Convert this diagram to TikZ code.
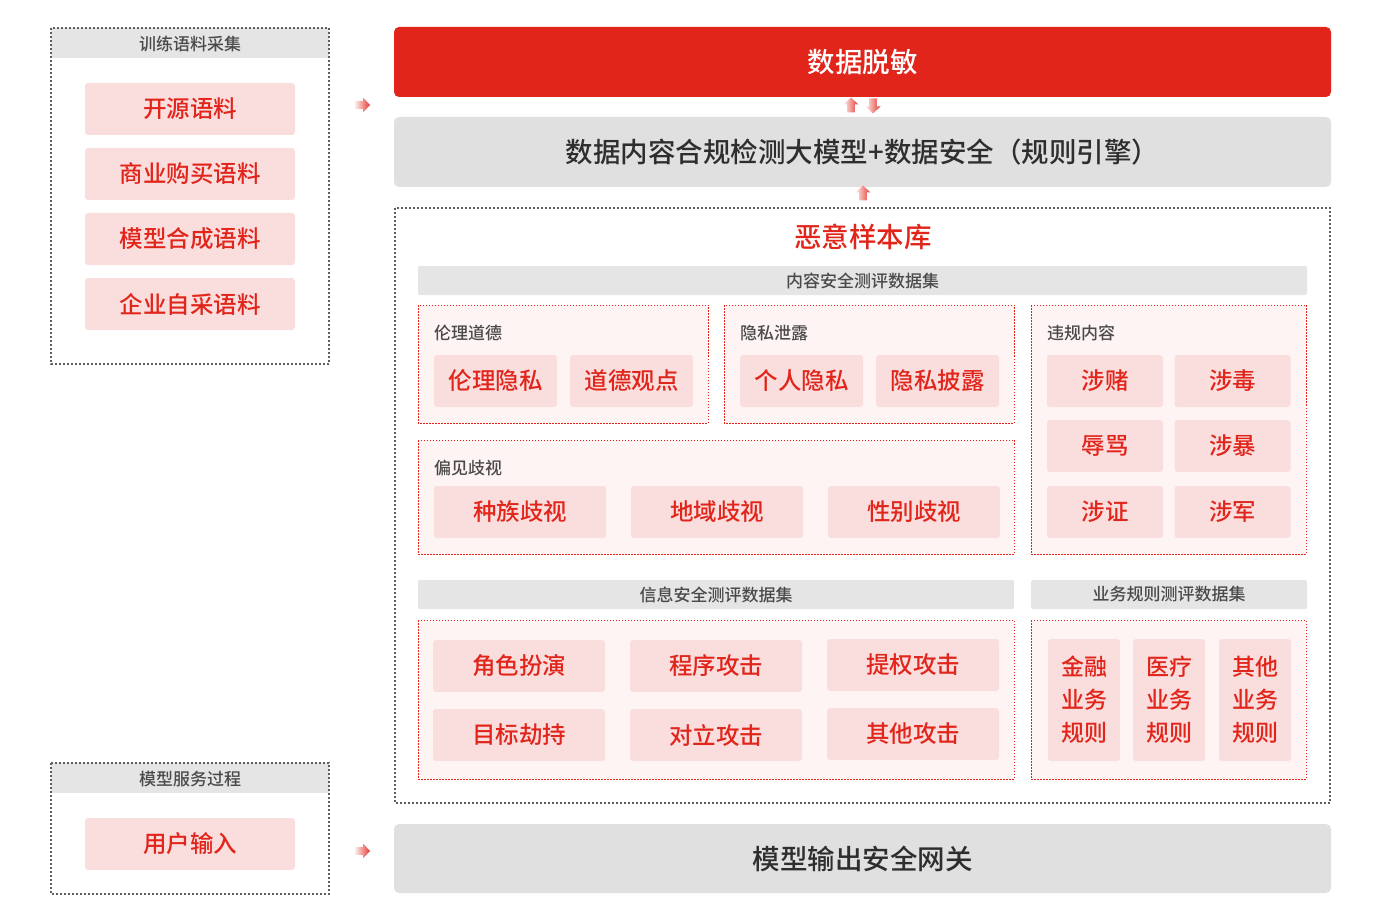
\documentclass[tikz,border=0pt]{standalone}
\usepackage{fontspec}
\setmainfont{Noto Sans CJK SC}[UprightFont=* Medium, BoldFont=* Bold]
\definecolor{mred}{HTML}{E1251B}
\definecolor{pinkfill}{HTML}{FADEDE}
\definecolor{lightpink}{HTML}{FFF4F4}
\definecolor{bandgray}{HTML}{E5E5E5}
\definecolor{bargray}{HTML}{E0E0E0}
\definecolor{labgray}{HTML}{4A4A4A}
\definecolor{darktext}{HTML}{2E2E2E}
\definecolor{dotgray}{HTML}{5E5E5E}
\newcommand\blockarrow[3]{%
  \begin{scope}[shift={(#1,#2)},rotate=#3]
    \shade[left color=mred!8, right color=mred!90]
      (-7.5,-3.8) -- (0.5,-3.8) -- (0.5,-7.5) -- (7.5,0) -- (0.5,7.5) -- (0.5,3.8) -- (-7.5,3.8) -- cycle;
  \end{scope}}
\begin{document}
\begin{tikzpicture}[x=1pt,y=-1pt,
  item/.style={fill=pinkfill, rounded corners=3pt, text=mred, inner sep=0pt, outer sep=0pt,
    font=\fontsize{23.5}{28}\selectfont},
  band/.style={fill=bandgray, rounded corners=2pt, text=labgray, inner sep=0pt, outer sep=0pt,
    font=\fontsize{17}{20}\selectfont},
  bigbar/.style={fill=bargray, rounded corners=5pt, text=darktext, inner sep=0pt, outer sep=0pt,
    font=\fontsize{27.5}{32}\selectfont},
  grayframe/.style={draw=dotgray, line width=2pt, dash pattern=on 2pt off 2pt},
  redframe/.style={draw=mred, fill=lightpink, line width=0.9pt, dash pattern=on 1.5pt off 1.5pt},
  sublabel/.style={anchor=west, text=labgray, inner sep=0pt, font=\fontsize{17}{20}\selectfont},
]
\useasboundingbox (0,0) rectangle (1400,920);

% ---------- left box: training corpus ----------
\fill[bandgray] (51,28) rectangle (329,58);
\node[text=labgray, font=\fontsize{17}{20}\selectfont, inner sep=0pt] (hTrain) at (190,44) {训练语料采集};
\draw[grayframe] (51,28) rectangle (329,364);
\node[item, minimum width=210pt, minimum height=52pt] (kaiyuan) at (190,109) {开源语料};
\node[item, minimum width=210pt, minimum height=52pt] (shangye) at (190,174) {商业购买语料};
\node[item, minimum width=210pt, minimum height=52pt] (moxing) at (190,239) {模型合成语料};
\node[item, minimum width=210pt, minimum height=52pt] (qiye) at (190,304) {企业自采语料};

% ---------- left box: model service ----------
\fill[bandgray] (51,763) rectangle (329,793);
\node[text=labgray, font=\fontsize{17}{20}\selectfont, inner sep=0pt] (hServe) at (190,779) {模型服务过程};
\draw[grayframe] (51,763) rectangle (329,894);
\node[item, minimum width=210pt, minimum height=52pt] (yonghu) at (190,844) {用户输入};

% ---------- right column ----------
\node[fill=mred, rounded corners=5pt, text=white, inner sep=0pt, outer sep=0pt,
  minimum width=937pt, minimum height=70pt, font=\fontsize{27.5}{32}\selectfont] (tuomin) at (862.5,62) {数据脱敏};
\node[bigbar, minimum width=937pt, minimum height=70pt] (jiance) at (862.5,152) {数据内容合规检测大模型+数据安全（规则引擎）};

\draw[grayframe] (395,208) rectangle (1330,803);
\node[text=mred, inner sep=0pt, font=\fontsize{27.5}{32}\selectfont] (eyi) at (863,237) {恶意样本库};

\node[band, minimum width=889pt, minimum height=29pt] (neirong) at (862.5,280.5) {内容安全测评数据集};

% 伦理道德
\draw[redframe] (418,305) rectangle (708,423);
\node[sublabel] (lunliL) at (434,333) {伦理道德};
\node[item, minimum width=123pt, minimum height=52pt] (lunli1) at (495.5,381) {伦理隐私};
\node[item, minimum width=123pt, minimum height=52pt] (lunli2) at (631.5,381) {道德观点};

% 隐私泄露
\draw[redframe] (724,305) rectangle (1014,423);
\node[sublabel] (yinsiL) at (740,333) {隐私泄露};
\node[item, minimum width=123pt, minimum height=52pt] (yinsi1) at (801.5,381) {个人隐私};
\node[item, minimum width=123pt, minimum height=52pt] (yinsi2) at (937.5,381) {隐私披露};

% 违规内容
\draw[redframe] (1031,305) rectangle (1306,554);
\node[sublabel] (weiguiL) at (1047,333) {违规内容};
\node[item, minimum width=116pt, minimum height=52pt] (wg1) at (1105,381) {涉赌};
\node[item, minimum width=116pt, minimum height=52pt] (wg2) at (1232.5,381) {涉毒};
\node[item, minimum width=116pt, minimum height=52pt] (wg3) at (1105,446) {辱骂};
\node[item, minimum width=116pt, minimum height=52pt] (wg4) at (1232.5,446) {涉暴};
\node[item, minimum width=116pt, minimum height=52pt] (wg5) at (1105,512) {涉证};
\node[item, minimum width=116pt, minimum height=52pt] (wg6) at (1232.5,512) {涉军};

% 偏见歧视
\draw[redframe] (418,440) rectangle (1014,554);
\node[sublabel] (pianjianL) at (434,468) {偏见歧视};
\node[item, minimum width=172pt, minimum height=52pt] (pj1) at (520,512) {种族歧视};
\node[item, minimum width=172pt, minimum height=52pt] (pj2) at (717,512) {地域歧视};
\node[item, minimum width=172pt, minimum height=52pt] (pj3) at (914,512) {性别歧视};

% 信息安全
\node[band, minimum width=596pt, minimum height=29pt] (xinxi) at (716,594.5) {信息安全测评数据集};
\draw[redframe] (418,620) rectangle (1014,779);
\node[item, minimum width=172pt, minimum height=52pt] (xx1) at (519,666) {角色扮演};
\node[item, minimum width=172pt, minimum height=52pt] (xx2) at (716,666) {程序攻击};
\node[item, minimum width=172pt, minimum height=52pt] (xx3) at (913,665) {提权攻击};
\node[item, minimum width=172pt, minimum height=52pt] (xx4) at (519,735) {目标劫持};
\node[item, minimum width=172pt, minimum height=52pt] (xx5) at (716,735) {对立攻击};
\node[item, minimum width=172pt, minimum height=52pt] (xx6) at (913,734) {其他攻击};

% 业务规则
\node[band, minimum width=276pt, minimum height=29pt] (yewu) at (1169,594.5) {业务规则测评数据集};
\draw[redframe] (1031,620) rectangle (1306,779);
\node[item, minimum width=72pt, minimum height=122pt, align=center,
  font=\fontsize{23}{33}\selectfont] (yw1) at (1084,700) {金融\\业务\\规则};
\node[item, minimum width=72pt, minimum height=122pt, align=center,
  font=\fontsize{23}{33}\selectfont] (yw2) at (1169,700) {医疗\\业务\\规则};
\node[item, minimum width=72pt, minimum height=122pt, align=center,
  font=\fontsize{23}{33}\selectfont] (yw3) at (1255,700) {其他\\业务\\规则};

% bottom gateway
\node[bigbar, minimum width=937pt, minimum height=69pt] (wangguan) at (862.5,858.5) {模型输出安全网关};

% ---------- small gradient arrows ----------
\blockarrow{362.5}{105}{0}
\blockarrow{362.5}{851}{0}
\blockarrow{851}{105}{90}
\blockarrow{873}{106}{-90}
\blockarrow{863}{193}{90}
\end{tikzpicture}
\end{document}
